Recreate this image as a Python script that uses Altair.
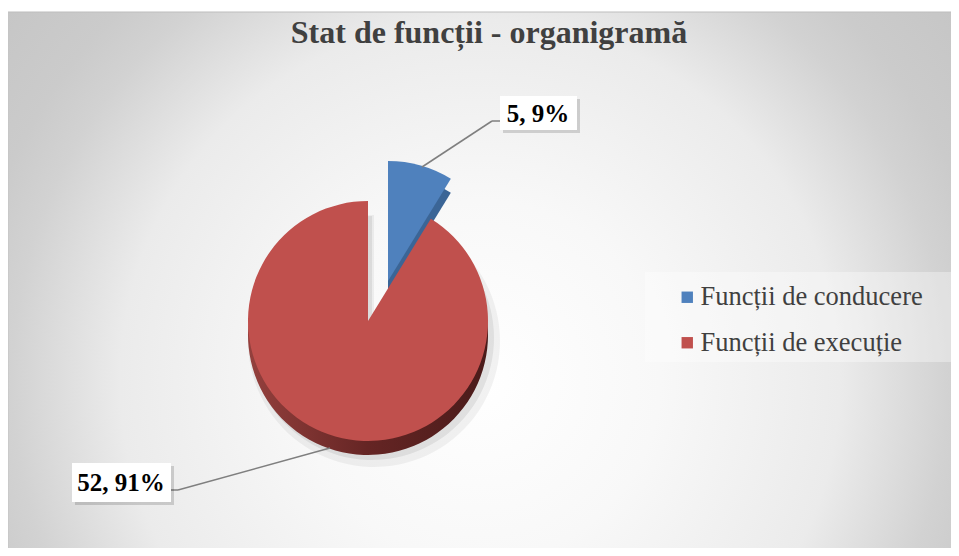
import altair as alt
import pandas as pd

# ---- data ----
categories = ["Funcții de conducere", "Funcții de execuție"]
values = [5, 52]
order_idx = [0, 1]
colors = ["#4F81BD", "#C0504D"]
title_text = "Stat de funcții - organigramă"

df = pd.DataFrame({"cat": categories, "value": values, "idx": order_idx})
one = pd.DataFrame({"k": [0]})

# ---- layout ----
W, H = 943, 540
CX, CY, R, DEPTH = 360, 313, 120, 14
BX, BY = CX + 20, CY - 40
SERIF = "Liberation Serif"

legend_def = alt.Legend(
    orient="none", legendX=666, legendY=276, title=None,
    symbolType="square", symbolSize=130, symbolStrokeWidth=0, symbolOpacity=1,
    labelFont=SERIF, labelFontSize=26.5, labelColor="#404040",
    rowPadding=18.5, labelOffset=0, padding=0, labelLimit=400,
)


def arc_layer(cx, cy, radius, show, fill=None, opacity=1.0):
    enc = dict(
        theta=alt.Theta("value:Q", stack=True),
        order=alt.Order("idx:Q"),
        x=alt.value(cx),
        y=alt.value(cy),
        opacity=alt.condition(alt.datum.cat == show, alt.value(opacity), alt.value(0)),
    )
    if fill is None:
        enc["color"] = alt.Color(
            "cat:N", scale=alt.Scale(domain=categories, range=colors), legend=legend_def
        )
        ch = alt.Chart(df).mark_arc(radius=radius)
    else:
        ch = alt.Chart(df).mark_arc(radius=radius, fill=fill)
    return ch.encode(**enc)


def rect(x, y, x2, y2, **style):
    return alt.Chart(one).mark_rect(**style).encode(
        x=alt.value(x), x2=alt.value(x2), y=alt.value(y), y2=alt.value(y2)
    )


def rule(x, y, x2, y2, **style):
    return alt.Chart(one).mark_rule(**style).encode(
        x=alt.value(x), x2=alt.value(x2), y=alt.value(y), y2=alt.value(y2)
    )


bg_grad = {
    "gradient": "radial",
    "x1": 0.5, "y1": 0.5, "r1": 0,
    "x2": 0.5, "y2": 0.5, "r2": 0.5,
    "stops": [
        {"offset": 0, "color": "#ffffff"},
        {"offset": 0.3, "color": "#f8f8f8"},
        {"offset": 0.6, "color": "#ebebeb"},
        {"offset": 0.78, "color": "#d2d2d2"},
        {"offset": 0.86, "color": "#cbcbcb"},
        {"offset": 1, "color": "#c6c6c6"},
    ],
}
GC_X, GC_Y, GR = 472, 372, 600
background = rect(GC_X - GR, GC_Y - GR, GC_X + GR, GC_Y + GR, fill=bg_grad)
top_strip = rect(-5, -5, W + 5, 4, fill="white")
top_line = rule(0, 4, W, 4, color="#bdbdbd", strokeWidth=1)
left_line = rule(0, 4, 0, H, color="#c4c4c4", strokeWidth=1)

legend_bg = rect(637, 264, W, 354, fill="white", opacity=0.35)

red_side_grad = {
    "gradient": "linear", "x1": 0, "y1": 0, "x2": 1, "y2": 0,
    "stops": [
        {"offset": 0, "color": "#94403d"},
        {"offset": 0.5, "color": "#652524"},
        {"offset": 1, "color": "#4a1b1a"},
    ],
}

shadow1 = arc_layer(CX + 6, CY + DEPTH + 6, R + 6, categories[1], fill="#000000", opacity=0.05)
shadow2 = arc_layer(CX + 4, CY + DEPTH + 3, R + 2, categories[1], fill="#000000", opacity=0.07)
red_side = arc_layer(CX, CY + DEPTH, R, categories[1], fill=red_side_grad)
blue_side = arc_layer(BX, BY + DEPTH, R, categories[0], fill="#3b6596")
red_top = arc_layer(CX, CY, R, categories[1])
blue_top = arc_layer(BX, BY, R, categories[0])

lead_c = dict(color="#7f7f7f", strokeWidth=1.5)
lead_blue = rule(414, 159, 484, 113, **lead_c) + rule(484, 113, 492, 113, **lead_c)
lead_red = rule(322, 440, 170, 482, **lead_c) + rule(170, 482, 163, 482, **lead_c)

boxes = (
    rect(495, 91, 572, 125, fill="#000000", opacity=0.15)
    + rect(492, 88, 569, 122, fill="white")
    + rect(67, 458, 166, 497, fill="#000000", opacity=0.15)
    + rect(64, 455, 163, 494, fill="white")
)

label_base = (
    alt.Chart(df)
    .transform_joinaggregate(total="sum(value)")
    .transform_calculate(
        label="datum.value + ', ' + round(datum.value / datum.total * 100) + '%'"
    )
)
label_style = dict(font=SERIF, fontSize=25, fontWeight="bold", color="#000000",
                   align="center", baseline="alphabetic")
blue_label = label_base.transform_filter(alt.datum.idx == 0).mark_text(**label_style).encode(
    text="label:N", x=alt.value(530), y=alt.value(114)
)
red_label = label_base.transform_filter(alt.datum.idx == 1).mark_text(**label_style).encode(
    text="label:N", x=alt.value(113), y=alt.value(483)
)

title = alt.Chart(one).mark_text(
    text=title_text, font=SERIF, fontSize=32, fontWeight="bold", color="#404040",
    align="center", baseline="alphabetic",
).encode(x=alt.value(481), y=alt.value(35))

chart = alt.layer(
    background, top_strip, top_line, left_line, legend_bg,
    shadow1, shadow2, red_side, blue_side, red_top, blue_top,
    lead_blue, lead_red, boxes, blue_label, red_label, title,
).properties(
    width=W, height=H, autosize=alt.AutoSizeParams(type="none"), padding=0,
    background="white",
).configure_view(stroke=None)

chart.save("out.html", embed_options={"renderer": "svg", "actions": False})
